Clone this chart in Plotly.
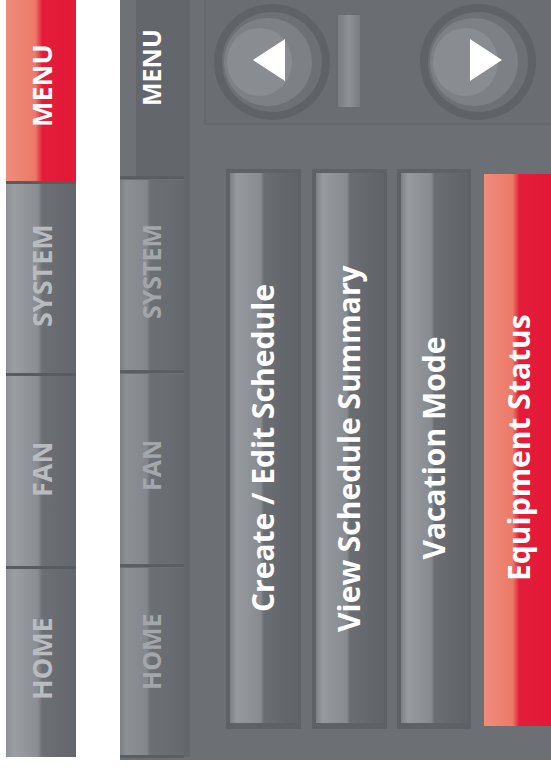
import plotly.graph_objects as go

# tab labels (left strip and panel), menu entries
tabs = ["MENU", "SYSTEM", "FAN", "HOME"]
tab_active = [True, False, False, False]
menu_items = ["Create / Edit Schedule", "View Schedule Summary", "Vacation Mode", "Equipment Status"]
menu_selected = [False, False, False, True]

W, H = 551, 772
FONT = "Open Sans"

RED_SCALE = [[0, "#ef8c7c"], [0.42, "#ec7a68"], [0.52, "#e41c3a"], [1, "#e31837"]]
TAB_SCALE = [[0, "#8e9296"], [0.12, "#9a9ea2"], [0.45, "#8a8e92"], [0.52, "#6c7074"], [1, "#63676b"]]
BAR_SCALE = [[0, "#7d8185"], [0.1, "#969a9e"], [0.45, "#888c90"], [0.5, "#6a6e72"], [1, "#606468"]]
PTAB_SCALE = [[0, "#7c8084"], [0.1, "#8c9094"], [0.42, "#84888c"], [0.47, "#6c7074"], [1, "#666a6e"]]

fig = go.Figure()


def grad_rect(x0, x1, y0, y1, scale):
    fig.add_trace(go.Scatter(
        x=[x0, x1, x1, x0, x0], y=[y0, y0, y1, y1, y0],
        mode="lines", line=dict(width=0), fill="toself",
        fillgradient=dict(type="horizontal", colorscale=scale),
        hoverinfo="skip", showlegend=False))


def rect(x0, x1, y0, y1, color, layer="below"):
    fig.add_shape(type="rect", x0=x0, x1=x1, y0=y0, y1=y1,
                  fillcolor=color, line=dict(width=0), layer=layer)


def label(x, y, text, size, color):
    fig.add_annotation(x=x, y=y, text=f"<b>{text}</b>", textangle=-90,
                       showarrow=False, font=dict(family=FONT, size=size, color=color))


# ---- left strip ----
edges = [0, 182, 374, 567, 757]
centers = [86, 276, 470, 659]
for i, name in enumerate(tabs):
    y0, y1 = edges[i], edges[i + 1]
    grad_rect(6, 76, y0, y1, RED_SCALE if tab_active[i] else TAB_SCALE)
    if i > 0:
        rect(6, 76, y0 - 1, y0 + 2, "#585c60", layer="above")
    label(41, centers[i], name, 27, "#ffffff" if tab_active[i] else "#b9bcbf")

# ---- panel ----
rect(120, 551, 0, 760, "#6c7074")
# button tray
fig.add_shape(type="rect", x0=205, x1=560, y0=-10, y1=124, fillcolor="#6a6e72",
              line=dict(color="#65696d", width=2), layer="below")

# panel tabs
pedges = [0, 178, 372, 566, 757]
pcenters = [68, 272, 466, 652]
for i, name in enumerate(tabs):
    y0, y1 = pedges[i], pedges[i + 1]
    if tab_active[i]:
        rect(120, 184, y0, y1, "#63676b")
        rect(120, 136, y0, y1, "#6e7276")
    else:
        grad_rect(120, 184, y0 + 2, y1 - 2, PTAB_SCALE)
    rect(120, 184, y1 - 2, y1 + 1, "#5a5e62", layer="above")
    label(151, pcenters[i], name, 25, "#ffffff" if tab_active[i] else "#a3a7ab")
rect(184, 190, 0, 757, "#63676b")

# arrow buttons
for cx, cy, d in [(272, 62, -1), (478, 62, 1)]:
    fig.add_shape(type="circle", x0=cx - 58, x1=cx + 58, y0=cy - 58, y1=cy + 58,
                  fillcolor="#5f6367", line=dict(width=0), layer="below")
    fig.add_shape(type="circle", x0=cx - 50, x1=cx + 50, y0=cy - 50, y1=cy + 50,
                  fillcolor="#6d7175", line=dict(width=0), layer="below")
    fig.add_shape(type="circle", x0=cx - 48, x1=cx + 40, y0=cy - 44, y1=cy + 44,
                  fillcolor="#7d8185", line=dict(width=0), layer="below")
    fig.add_shape(type="circle", x0=cx - 45, x1=cx + 20, y0=cy - 34, y1=cy + 34,
                  fillcolor="#898d91", line=dict(width=0), layer="below")
    tip, base = (cx - 19, cx + 13) if d < 0 else (cx + 24, cx - 8)
    fig.add_shape(type="path", path=f"M {tip},{cy - 2} L {base},{cy - 23} L {base},{cy + 19} Z",
                  fillcolor="#ffffff", line=dict(width=0), layer="above")

# centre slider
grad_rect(338, 360, 15, 107, [[0, "#7a7e82"], [0.5, "#8e9296"], [1, "#797d81"]])

# menu bars
bx = [(230, 298), (316, 384), (401, 468), (484, 551)]
for (x0, x1), name, sel in zip(bx, menu_items, menu_selected):
    if sel:
        grad_rect(x0, x1 + 1, 174, 726, RED_SCALE)
        label(x0 + 34, 448, name, 30, "#ffffff")
    else:
        rect(x0 - 4, x1 + 3, 169, 729, "#5e6266")
        grad_rect(x0, x1, 173, 723, BAR_SCALE)
        label((x0 + x1) / 2 - 2, 448, name, 30, "#ffffff")

fig.update_xaxes(range=[0, W], visible=False, fixedrange=True)
fig.update_yaxes(range=[H, 0], visible=False, fixedrange=True)
fig.update_layout(width=W, height=H, margin=dict(l=0, r=0, t=0, b=0),
                  paper_bgcolor="white", plot_bgcolor="white", showlegend=False)
fig.write_html("out.html", config={"displayModeBar": False},
               post_script="document.body.style.margin='0';")
